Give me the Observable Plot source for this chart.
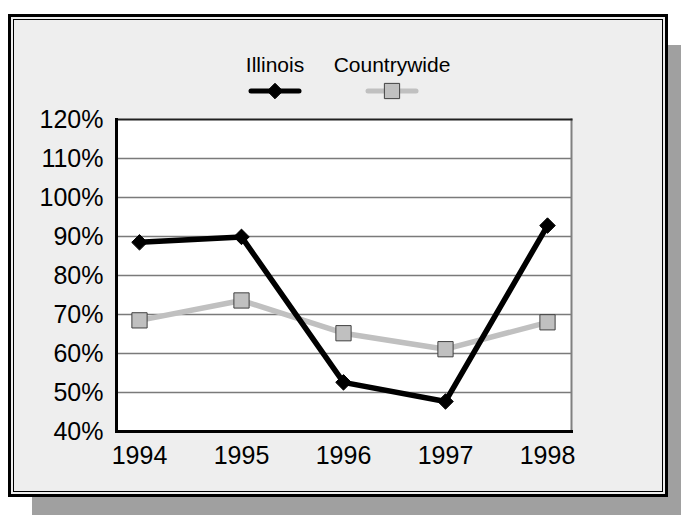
<!DOCTYPE html>
<html><head><meta charset="utf-8">
<script src="https://cdn.jsdelivr.net/npm/d3@7"></script>
<script src="https://cdn.jsdelivr.net/npm/@observablehq/plot@0.6"></script>
<style>
html,body{margin:0;padding:0;background:#fff;width:681px;height:515px;overflow:hidden;font-family:"Liberation Sans",Arial,sans-serif;}
#shadow{position:absolute;left:32px;top:45px;width:649px;height:470px;background:#a0a0a0;}
#frame{position:absolute;left:8px;top:14px;width:660px;height:483px;box-sizing:border-box;background:#eeeeee;border:3px solid #000;box-shadow:inset 0 0 0 2px #eeeeee, inset 0 0 0 3px #000;}
#chart{position:absolute;left:0;top:100px;}
.item{position:absolute;top:54px;text-align:center;font-size:21px;line-height:21px;color:#000;}
.item svg{display:block;margin:6px auto 0 auto;}
</style></head>
<body>
<div id="shadow"></div>
<div id="frame"></div>
<div id="legend"></div>
<div id="chart"></div>
<script>
const years = ["1994","1995","1996","1997","1998"];
const seriesNames = ["Illinois","Countrywide"];
const illinois = [88.5, 89.9, 52.6, 47.7, 92.8];
const countrywide = [68.5, 73.6, 65.2, 61.1, 68.0];
const yTicks = [40,50,60,70,80,90,100,110,120];

const lineColor = {"Illinois":"#000000","Countrywide":"#c0c0c0"};
const rows = [];
years.forEach((y,i)=>{
  rows.push({year:y, series:"Illinois", value:illinois[i]});
  rows.push({year:y, series:"Countrywide", value:countrywide[i]});
});
const ill = rows.filter(d=>d.series==="Illinois");
const cw = rows.filter(d=>d.series==="Countrywide");

const chart = Plot.plot({
  width:681, height:415,
  marginLeft:116, marginRight:110, marginTop:19, marginBottom:84,
  style:{background:"transparent", fontFamily:"Liberation Sans, Arial, sans-serif", overflow:"visible"},
  x:{type:"point", domain:years, padding:0, insetLeft:22.5, insetRight:23},
  y:{domain:[40,120]},
  marks:[
    Plot.frame({fill:"white", stroke:"none"}),
    Plot.ruleY(yTicks.filter(t=>t>40 && t<120), {stroke:"#7a7a7a", strokeWidth:1.5}),
    Plot.frame({anchor:"right", stroke:"#808080", strokeWidth:2}),
    Plot.frame({anchor:"top", stroke:"#202020", strokeWidth:2}),
    Plot.frame({anchor:"left", stroke:"#000", strokeWidth:3}),
    Plot.frame({anchor:"bottom", stroke:"#000", strokeWidth:3}),
    Plot.line(cw, {x:"year", y:"value", stroke:lineColor["Countrywide"], strokeWidth:5.5}),
    Plot.line(ill, {x:"year", y:"value", stroke:lineColor["Illinois"], strokeWidth:5.5}),
    Plot.dot(cw, {x:"year", y:"value", symbol:"square", r:8.6, fill:"#c0c0c0", stroke:"#404040", strokeWidth:1}),
    Plot.dot(ill, {x:"year", y:"value", symbol:"diamond2", r:7, fill:"#000", stroke:"#000", strokeWidth:1}),
    Plot.axisY(yTicks, {tickFormat:d=>d+"%", tickSize:0, tickPadding:13, fontSize:25, fill:"#000", label:null}),
    Plot.axisX({tickSize:0, tickPadding:15, fontSize:25, fill:"#000", label:null})
  ]
});
document.getElementById("chart").appendChild(chart);

// legend
const legend = document.getElementById("legend");
const centers = {"Illinois":275, "Countrywide":392};
const widths = {"Illinois":90, "Countrywide":140};
seriesNames.forEach(name=>{
  const div = document.createElement("div");
  div.className = "item";
  div.style.left = (centers[name]-widths[name]/2)+"px";
  div.style.width = widths[name]+"px";
  div.textContent = name;
  const svg = d3.create("svg").attr("width",56).attr("height",20);
  svg.append("line").attr("x1",4).attr("x2",52).attr("y1",10).attr("y2",10)
    .attr("stroke",lineColor[name]).attr("stroke-width",5).attr("stroke-linecap","round");
  if(name==="Illinois"){
    svg.append("path").attr("transform","translate(28,10)")
      .attr("d", d3.symbol(d3.symbolDiamond2, 7*7*Math.PI)()).attr("fill","#000").attr("stroke","#000");
  } else {
    svg.append("path").attr("transform","translate(28,10)")
      .attr("d", d3.symbol(d3.symbolSquare, 8.6*8.6*Math.PI)()).attr("fill","#c0c0c0").attr("stroke","#404040");
  }
  div.appendChild(svg.node());
  legend.appendChild(div);
});
</script>
</body></html>
